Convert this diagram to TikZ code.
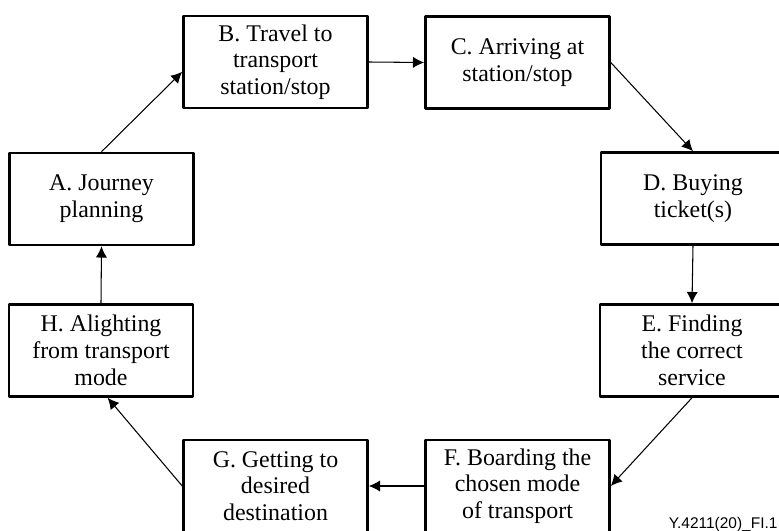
\documentclass[tikz,border=0pt]{standalone}
\usepackage{fontspec}
\setmainfont{Liberation Serif}
\newfontfamily\figfont{Liberation Sans}
\usetikzlibrary{arrows.meta}

\begin{document}
\begin{tikzpicture}[x=0.025cm,y=-0.025cm,line join=round,line width=0.75pt,>={Latex[length=8pt,width=8pt]},
  stage/.style={draw,line width=1.8pt,minimum width=4.6cm,minimum height=2.3cm,align=center,inner sep=2pt,font=\fontsize{17}{19}\selectfont}]
\clip(0,0) rectangle (779,531);

\node[stage] (A) at (101.5,199) {A. Journey\\planning};
\node[stage] (B) at (275.5,62) {B. Travel to\\transport\\station/stop};
\node[stage] (C) at (517.5,62.5) {C. Arriving at\\station/stop};
\node[stage] (D) at (693,198.5) {D. Buying\\ticket(s)};
\node[stage] (E) at (692,350.5) {E. Finding\\the correct\\service};
\node[stage] (F) at (517.5,486) {F. Boarding the\\chosen mode\\of transport};
\node[stage] (G) at (275.5,486) {G. Getting to\\desired\\destination};
\node[stage] (H) at (101,350.5) {H. Alighting\\from transport\\mode};

\draw[->](A.north)--(B.186);
\draw[->](B.east)--(C.west);
\draw[->](C.east)--(D.north);
\draw[->](D.south)--(E.north);
\draw[->](E.south)--(F.east);
\draw[->](F.west)--(G.east);
\draw[->](G.west)--(H.-82);
\draw[->](H.north)--(A.south);

\node[anchor=base east,inner sep=0pt,font=\figfont\fontsize{11}{13}\selectfont] (fig) at (778,529) {Y.4211(20)\_FI.1};
\end{tikzpicture}
\end{document}
